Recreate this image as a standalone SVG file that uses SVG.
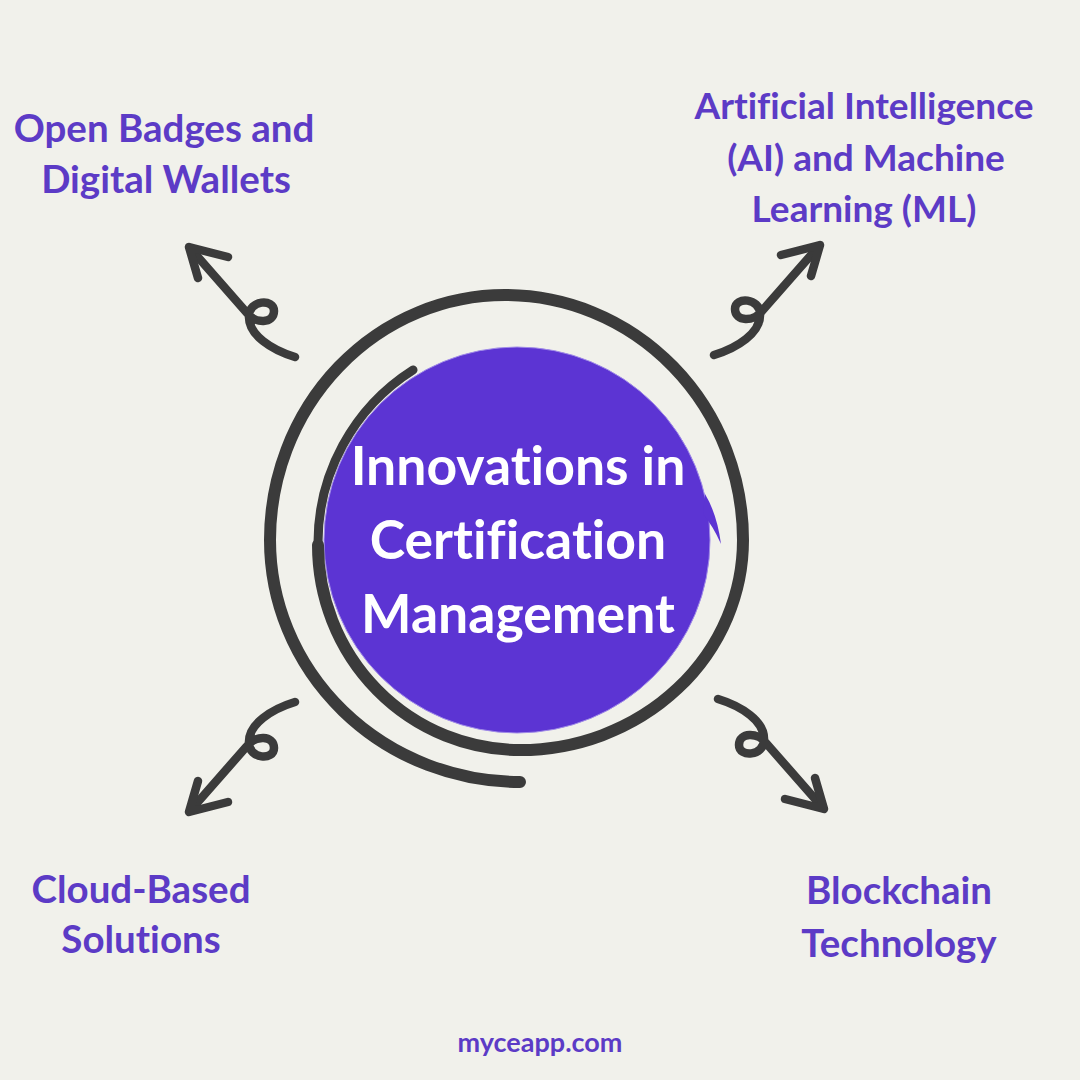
<svg xmlns="http://www.w3.org/2000/svg" width="1080" height="1080" viewBox="0 0 1080 1080">
  <style>
    text { font-variant-ligatures: none; }
    .lbl { font-family: Lato, "Noto Sans", sans-serif; font-weight: 700; font-size: 38.5px; fill: #5c3bc6; text-anchor: middle; }
    .lbl-ai { font-size: 37px; }
    .ttl { font-family: Lato, "Noto Sans", sans-serif; font-weight: 700; font-size: 53.5px; fill: #ffffff; text-anchor: middle; }
    .stroke { fill: none; stroke: #3b3b3b; stroke-linecap: round; stroke-linejoin: round; }
  </style>
  <defs>
    <g id="arrow">
      <path class="stroke" stroke-width="8.5" d="M 32 48 C 9 41 -15 26 -14 7 C -14 -9 11 -11 11 2 C 11 15 -8 15 -16 4 L -73 -61"/>
      <path class="stroke" stroke-width="8.5" d="M -35 -52 L -74 -62 L -65 -31"/>
    </g>
  </defs>
  <rect x="0" y="0" width="1080" height="1080" fill="#f1f1eb"/>

  <g id="center-node">
    <circle cx="517" cy="540" r="193" fill="#5c34d3" stroke="#a08be8" stroke-width="1"/>
    <path d="M 705 494 Q 717 514 721 544 Q 713 526 703 514 Z" fill="#5c34d3"/>
    <path class="stroke" stroke-width="9" d="M 413 370 A 205 205 0 0 0 318 545"/>
    <path class="stroke" stroke-width="12" d="M 318 545 A 202 205 0 0 0 520 750 A 223 210 0 0 0 743 540 A 238 245 0 0 0 505 295 A 235 245 0 0 0 270 540 A 250 242 0 0 0 520 782"/>
    <text class="ttl" x="518" y="485">Innovations in</text>
    <text class="ttl" x="518" y="559">Certification</text>
    <text class="ttl" x="518" y="633">Management</text>
  </g>

  <g id="connectors">
    <use href="#arrow" transform="translate(263,309)"/>
    <use href="#arrow" transform="translate(746,307) scale(-1,1)"/>
    <use href="#arrow" transform="translate(263,750) scale(1,-1)"/>
    <use href="#arrow" transform="translate(750,747) scale(-1,-1)"/>
  </g>

  <g id="node-open-badges">
    <text class="lbl" x="164" y="142">Open Badges and</text>
    <text class="lbl" x="166" y="193">Digital Wallets</text>
  </g>
  <g id="node-ai-ml">
    <text class="lbl lbl-ai" x="864" y="119">Artificial Intelligence</text>
    <text class="lbl lbl-ai" x="866" y="171">(AI) and Machine</text>
    <text class="lbl lbl-ai" x="864" y="222">Learning (ML)</text>
  </g>
  <g id="node-cloud">
    <text class="lbl" x="141" y="903">Cloud-Based</text>
    <text class="lbl" x="141" y="953">Solutions</text>
  </g>
  <g id="node-blockchain">
    <text class="lbl" x="899" y="904">Blockchain</text>
    <text class="lbl" x="899" y="957">Technology</text>
  </g>
  <text x="540" y="1052" style="font-family: Lato, 'Noto Sans', sans-serif; font-weight: 700; font-size: 27px; fill: #5c3bc6; text-anchor: middle;">myceapp.com</text>
</svg>
